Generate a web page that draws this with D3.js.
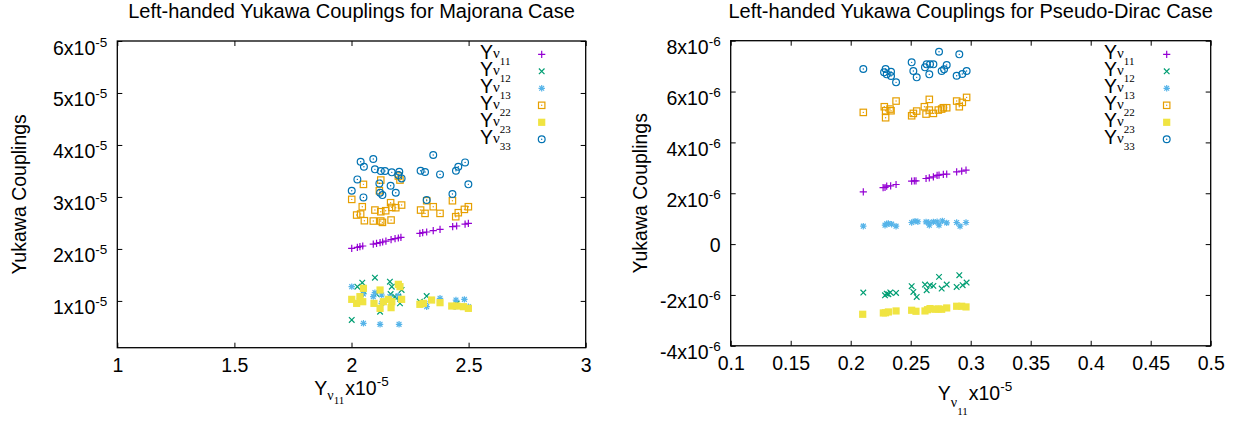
<!DOCTYPE html>
<html><head><meta charset="utf-8">
<script src="https://cdn.jsdelivr.net/npm/d3@7"></script>
<style>
body{margin:0;background:#fff}
svg{display:block}
text{font-family:"Liberation Sans",Arial,Helvetica,sans-serif;fill:#000}
</style>
</head><body>
<svg id="c" width="1233" height="421"></svg>
<script>
// ---------------- DATA ----------------
// Majorana case (values in units of 1e-5): [Y_nu11 (x), coupling]
const majTicksX = [1, 1.5, 2, 2.5, 3];
const majTicksY = [1, 2, 3, 4, 5, 6];
const majY11 = [[2.001,2.011],[2.025,2.030],[2.036,2.043],[2.048,2.056],[2.093,2.094],[2.107,2.107],[2.122,2.120],[2.133,2.133],[2.147,2.152],[2.169,2.178],[2.186,2.197],[2.200,2.210],[2.211,2.223],[2.292,2.300],[2.304,2.313],[2.321,2.326],[2.349,2.351],[2.378,2.377],[2.432,2.428],[2.449,2.441],[2.485,2.479],[2.499,2.492]];
const majY12 = [[2.046,1.351],[2.025,1.274],[2.100,1.447],[2.164,1.370],[2.172,1.274],[2.214,1.210],[2.186,1.082],[2.207,0.953],[2.122,0.793],[2.001,0.633],[2.321,1.094],[2.292,0.985],[2.051,1.191],[2.107,1.133],[2.167,1.133],[2.200,1.082],[2.342,1.017],[2.449,0.950]];
const majY13 = [[2.001,1.274],[2.051,1.133],[2.100,1.159],[2.129,1.114],[2.093,1.082],[2.051,0.569],[2.122,0.550],[2.203,0.550],[2.378,1.050],[2.446,1.017],[2.482,1.030],[2.314,0.953],[2.129,0.953],[2.164,1.082],[2.499,0.889],[2.442,0.889],[2.321,0.889],[2.036,1.050],[2.200,1.100]];
const majY22 = [[2.001,2.953],[2.022,2.652],[2.039,2.671],[2.046,2.812],[2.051,3.242],[2.055,2.543],[2.093,2.537],[2.100,2.748],[2.119,3.120],[2.125,3.325],[2.125,2.716],[2.125,2.537],[2.132,2.511],[2.146,2.735],[2.167,2.889],[2.169,2.556],[2.172,2.799],[2.189,2.793],[2.200,3.402],[2.207,3.325],[2.214,2.844],[2.295,2.748],[2.314,2.684],[2.321,2.927],[2.349,2.812],[2.378,2.684],[2.431,2.927],[2.445,2.620],[2.456,2.697],[2.482,2.761],[2.499,2.812]];
const majY23 = [[2.001,1.030],[2.022,0.953],[2.048,0.985],[2.051,1.242],[2.122,1.210],[2.096,0.953],[2.136,0.985],[2.172,0.985],[2.200,1.319],[2.214,1.030],[2.169,0.870],[2.122,0.857],[2.292,0.934],[2.342,1.017],[2.378,0.966],[2.428,0.902],[2.478,0.889],[2.499,0.857],[2.207,1.274],[2.036,1.082],[2.157,1.030],[2.307,0.953],[2.449,0.902]];
const majY33 = [[2.001,3.120],[2.025,3.338],[2.039,3.678],[2.051,2.991],[2.053,3.582],[2.093,3.729],[2.100,3.531],[2.119,3.261],[2.122,3.081],[2.125,3.498],[2.132,3.036],[2.143,3.498],[2.167,3.216],[2.172,3.473],[2.189,3.081],[2.200,3.421],[2.204,3.485],[2.214,3.357],[2.295,3.505],[2.314,3.479],[2.321,2.940],[2.349,3.806],[2.378,3.434],[2.431,3.056],[2.446,3.505],[2.456,3.582],[2.485,3.665],[2.499,3.242]];

// Pseudo-Dirac case: x in units of 1e-5, couplings in units of 1e-6
const pdTicksX = [0.1, 0.15, 0.2, 0.25, 0.3, 0.35, 0.4, 0.45, 0.5];
const pdTicksY = [-4, -2, 0, 2, 4, 6, 8];
const pdY11 = [[0.2105,2.056],[0.2270,2.220],[0.2286,2.227],[0.2300,2.280],[0.2333,2.293],[0.2378,2.345],[0.2508,2.476],[0.2530,2.490],[0.2544,2.489],[0.2628,2.581],[0.2655,2.607],[0.2689,2.647],[0.2720,2.700],[0.2736,2.713],[0.2772,2.739],[0.2800,2.752],[0.2883,2.844],[0.2925,2.870],[0.2961,2.909]];
const pdY12 = [[0.2105,-1.907],[0.2286,-2.012],[0.2314,-1.972],[0.2378,-1.920],[0.2508,-1.657],[0.2522,-1.881],[0.2550,-2.078],[0.2619,-1.592],[0.2633,-1.815],[0.2661,-1.618],[0.2689,-1.644],[0.2736,-1.290],[0.2758,-1.749],[0.2800,-1.592],[0.2883,-1.684],[0.2905,-1.224],[0.2933,-1.618],[0.2966,-1.513],[0.2300,-1.950],[0.2330,-1.900]];
const pdY13 = [[0.2105,0.705],[0.2286,0.744],[0.2314,0.810],[0.2341,0.783],[0.2378,0.705],[0.2508,0.849],[0.2536,0.902],[0.2628,0.875],[0.2655,0.744],[0.2689,0.875],[0.2736,0.744],[0.2764,0.915],[0.2800,0.836],[0.2883,0.849],[0.2911,0.705],[0.2961,0.849],[0.2300,0.800],[0.2720,0.880],[0.2560,0.880],[0.2650,0.850]];
const pdY22 = [[0.2105,5.180],[0.2280,5.403],[0.2291,5.245],[0.2291,4.970],[0.2328,5.311],[0.2336,5.245],[0.2378,5.626],[0.2508,5.048],[0.2522,5.141],[0.2550,5.232],[0.2614,5.403],[0.2628,5.114],[0.2655,5.692],[0.2655,5.272],[0.2689,5.141],[0.2730,5.272],[0.2758,5.311],[0.2772,5.363],[0.2800,5.363],[0.2883,5.626],[0.2905,5.403],[0.2930,5.574],[0.2966,5.770]];
const pdY23 = [[0.2100,-2.760],[0.2272,-2.708],[0.2290,-2.700],[0.2314,-2.668],[0.2378,-2.629],[0.2508,-2.602],[0.2544,-2.642],[0.2619,-2.629],[0.2640,-2.580],[0.2661,-2.537],[0.2703,-2.563],[0.2730,-2.550],[0.2758,-2.563],[0.2800,-2.511],[0.2883,-2.445],[0.2925,-2.445],[0.2961,-2.471]];
const pdY33 = [[0.2105,6.886],[0.2291,6.886],[0.2278,6.755],[0.2300,6.676],[0.2336,6.781],[0.2336,6.610],[0.2378,6.361],[0.2508,7.148],[0.2522,6.807],[0.2550,6.558],[0.2619,6.951],[0.2633,7.070],[0.2661,7.070],[0.2689,7.070],[0.2655,6.676],[0.2736,7.568],[0.2800,7.043],[0.2758,6.807],[0.2778,6.873],[0.2883,6.623],[0.2930,6.689],[0.2966,6.807],[0.2905,7.463]];

const legendSubs = ["11", "12", "13", "22", "23", "33"];

// ---------------- DRAWING ----------------
const SERIF = '"Liberation Serif","Times New Roman",serif';
const FS = 19.5;
const svg = d3.select("#c");
const styles = [
  {shape:"plus", color:"#9400d3"},
  {shape:"cross", color:"#009e73"},
  {shape:"star", color:"#56b4e9"},
  {shape:"box", color:"#e69f00"},
  {shape:"fbox", color:"#f0e442"},
  {shape:"circ", color:"#0072b2"}
];

function marker(g, shape, color) {
  const s = 3.2;
  const line = p => g.append("path").attr("d", p).attr("fill", "none")
      .attr("stroke", color).attr("stroke-width", 1.2);
  if (shape === "plus") line(`M${-s-0.4},0H${s+0.4}M0,${-s-0.4}V${s+0.4}`);
  else if (shape === "cross") line(`M${-s+0.4},${-s+0.4}L${s-0.4},${s-0.4}M${-s+0.4},${s-0.4}L${s-0.4},${-s+0.4}`);
  else if (shape === "star") line(`M${-s},0H${s}M0,${-s}V${s}M${-s+0.8},${-s+0.8}L${s-0.8},${s-0.8}M${-s+0.8},${s-0.8}L${s-0.8},${-s+0.8}`);
  else if (shape === "box") {
    g.append("rect").attr("x", -s).attr("y", -s).attr("width", 2*s).attr("height", 2*s)
      .attr("fill", "none").attr("stroke", color).attr("stroke-width", 1.2);
    g.append("circle").attr("r", 0.7).attr("fill", color);
  } else if (shape === "fbox") {
    g.append("rect").attr("x", -3.6).attr("y", -3.6).attr("width", 7.2).attr("height", 7.2).attr("fill", color);
  } else if (shape === "circ") {
    g.append("circle").attr("r", 3.4).attr("fill", "none").attr("stroke", color).attr("stroke-width", 1.2);
    g.append("circle").attr("r", 0.7).attr("fill", color);
  }
}

function panel(c) {
  const x = d3.scaleLinear().domain(c.xDomain).range([c.left, c.right]);
  const y = d3.scaleLinear().domain(c.yDomain).range([c.bottom, c.top]);
  const root = svg.append("g");

  // title
  root.append("text").attr("x", (c.left + c.right) / 2).attr("y", 17.5)
    .attr("text-anchor", "middle").attr("font-size", 20).text(c.title);

  // axes (inward ticks, mirrored)
  const styleAxis = g => {
    g.select(".domain").remove();
    g.selectAll(".tick line").attr("stroke", "#000").attr("stroke-width", 1);
  };
  root.append("g").attr("transform", `translate(0,${c.bottom})`)
    .call(d3.axisBottom(x).tickValues(c.xTicks).tickSize(-5).tickSizeOuter(0).tickPadding(10.5).tickFormat(d => String(d)))
    .call(styleAxis)
    .call(g => g.selectAll("text").attr("font-size", FS).attr("font-family", null).attr("fill", "#000"));
  root.append("g").attr("transform", `translate(0,${c.top})`)
    .call(d3.axisTop(x).tickValues(c.xTicks).tickSize(-5).tickSizeOuter(0).tickFormat(""))
    .call(styleAxis);
  const ya = root.append("g").attr("transform", `translate(${c.left},0)`)
    .call(d3.axisLeft(y).tickValues(c.yTicks).tickSize(-5).tickSizeOuter(0).tickFormat(""))
    .call(styleAxis);
  ya.selectAll(".tick text").remove();
  ya.selectAll(".tick").each(function(d) {
    const t = d3.select(this).append("text").attr("x", -10).attr("text-anchor", "end")
      .attr("font-size", FS);
    if (d === 0) { t.attr("y", 7).text("0"); return; }
    t.attr("y", 13);
    t.append("tspan").text(`${d}x10`);
    t.append("tspan").attr("dy", -8).attr("font-size", 13.5).text(c.exp);
  });
  root.append("g").attr("transform", `translate(${c.right},0)`)
    .call(d3.axisRight(y).tickValues(c.yTicks).tickSize(-5).tickSizeOuter(0).tickFormat(""))
    .call(styleAxis);

  // frame
  root.append("rect").attr("x", c.left).attr("y", c.top)
    .attr("width", c.right - c.left).attr("height", c.bottom - c.top)
    .attr("fill", "none").attr("stroke", "#000").attr("stroke-width", 1.3);

  // y axis title
  root.append("text").attr("transform", `translate(${c.ytX},${(c.top + c.bottom) / 2}) rotate(-90)`)
    .attr("text-anchor", "middle").attr("font-size", FS).text("Yukawa Couplings");

  // x axis title (relative shifts only so it stays one centred chunk)
  const xt = root.append("text").attr("x", c.xtX).attr("y", c.xtY).attr("text-anchor", "middle").attr("font-size", FS);
  xt.append("tspan").text("Y");
  xt.append("tspan").attr("dy", c.nuDy).attr("font-family", SERIF).attr("font-size", 14).text("ν");
  xt.append("tspan").attr("dy", c.subDy - c.nuDy).attr("font-family", SERIF).attr("font-size", 11).text("11");
  xt.append("tspan").attr("dy", -c.subDy).attr("dx", 1).text("x10");
  xt.append("tspan").attr("dy", -9).attr("font-size", 13.5).text("-5");

  // points
  c.series.forEach((data, i) => {
    const st = styles[i];
    root.append("g").selectAll("g").data(data).join("g")
      .attr("transform", d => `translate(${x(d[0])},${y(d[1])})`)
      .each(function() { marker(d3.select(this), st.shape, st.color); });
  });

  // legend
  legendSubs.forEach((sub, i) => {
    const ry = 54.3 + i * 17;
    const t = root.append("text").attr("x", c.legX).attr("y", ry + 5).attr("font-size", FS);
    t.append("tspan").text("Y");
    t.append("tspan").attr("font-family", SERIF).attr("font-size", 15).attr("dy", -1).text("ν");
    t.append("tspan").attr("font-family", SERIF).attr("font-size", 11).attr("dy", 7).text(sub);
    const g = root.append("g").attr("transform", `translate(${c.legSym},${ry})`);
    marker(g, styles[i].shape, styles[i].color);
  });
}

panel({
  left: 117.3, right: 585.7, top: 41, bottom: 347.7,
  xDomain: [1, 3], yDomain: [0.1, 6],
  xTicks: majTicksX, yTicks: majTicksY, exp: "-5",
  title: "Left-handed Yukawa Couplings for Majorana Case",
  series: [majY11, majY12, majY13, majY22, majY23, majY33],
  ytX: 26, xtX: 351.5, xtY: 395, nuDy: 5, subDy: 9,
  legX: 480, legSym: 541.7
});
panel({
  left: 730.7, right: 1210.7, top: 40.7, bottom: 345.8,
  xDomain: [0.1, 0.5], yDomain: [-4, 8],
  xTicks: pdTicksX, yTicks: pdTicksY, exp: "-6",
  title: "Left-handed Yukawa Couplings for Pseudo-Dirac Case",
  series: [pdY11, pdY12, pdY13, pdY22, pdY23, pdY33],
  ytX: 647, xtX: 975, xtY: 400, nuDy: 7, subDy: 15,
  legX: 1104, legSym: 1166.7
});
</script>
</body></html>
